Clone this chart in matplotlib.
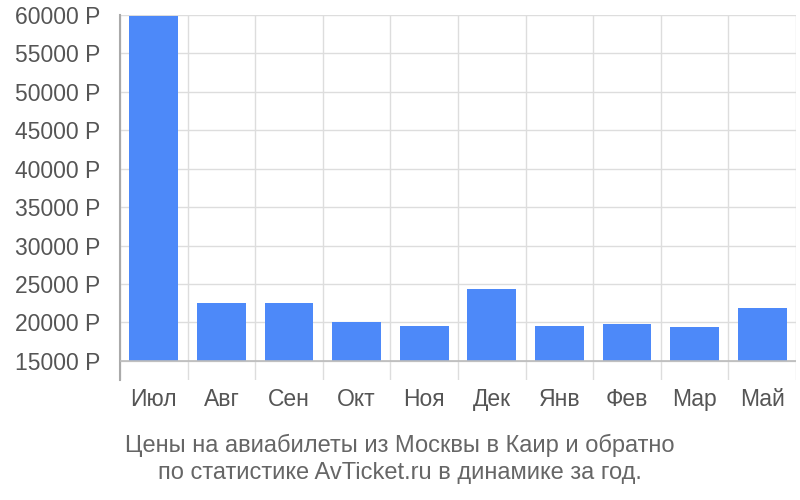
import numpy as np
import matplotlib
matplotlib.use("Agg")
import matplotlib.pyplot as plt

plt.rcParams['font.family'] = ['Liberation Sans', 'DejaVu Sans']

months = ["Июл", "Авг", "Сен", "Окт", "Ноя", "Дек", "Янв", "Фев", "Мар", "Май"]
prices = [59900, 22570, 22570, 20050, 19570, 24400, 19570, 19740, 19440, 21880]
yticks = [15000, 20000, 25000, 30000, 35000, 40000, 45000, 50000, 55000, 60000]
title = "Цены на авиабилеты из Москвы в Каир и обратно\nпо статистике AvTicket.ru в динамике за год."

base = 15000
fig = plt.figure(figsize=(8, 5), dpi=100)
ax = fig.add_axes([0.15, 0.24, 0.845, 0.73])

x = np.arange(len(months))
ax.bar(x, np.array(prices) - base, bottom=base, width=0.72, color="#4d89f9", zorder=3)

ax.set_xlim(-0.5, len(months) - 0.5)
ax.set_ylim(12520, 60000)
ax.set_yticks(yticks)
ax.set_yticklabels([f"{v} Р" for v in yticks])
ax.set_xticks(x)
ax.set_xticklabels(months)

# grid lines
for v in yticks:
    ax.axhline(v, color="#dddddd", lw=1, zorder=1)
for b in np.arange(len(months) + 1) - 0.5:
    ax.axvline(b, color="#dddddd", lw=1, zorder=1)
ax.axhline(base, color="#bbbbbb", lw=1.2, zorder=4)

for s in ["top", "right", "bottom"]:
    ax.spines[s].set_visible(False)
ax.spines["left"].set_color("#aaaaaa")
ax.spines["left"].set_linewidth(1.5)

ax.tick_params(axis="both", length=0, labelsize=16.5, labelcolor="#555555")
ax.tick_params(axis="y", pad=14)
ax.tick_params(axis="x", pad=6)

fig.text(0.5, 0.082, title, ha="center", va="center", fontsize=17,
         color="#666666", linespacing=1.3)

fig.savefig("out.png", dpi=100)
